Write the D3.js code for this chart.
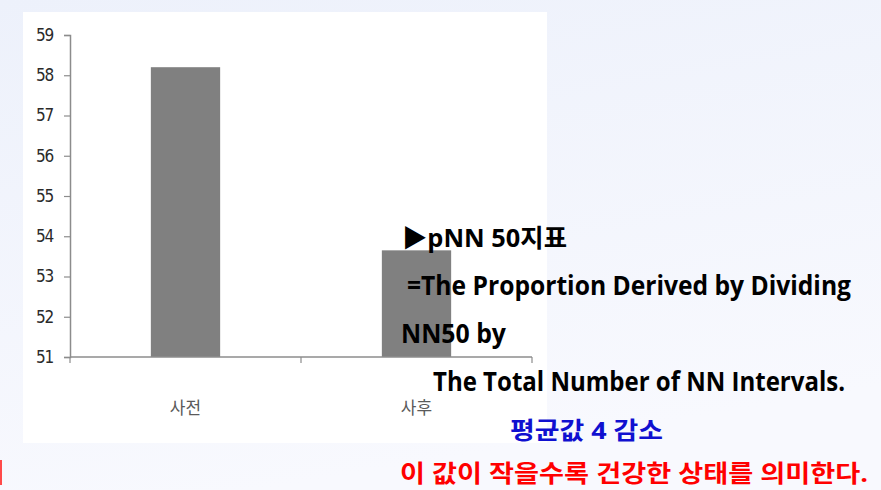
<!DOCTYPE html>
<html>
<head>
<meta charset="utf-8">
<script src="https://cdn.jsdelivr.net/npm/d3@7"></script>
<style>
  html, body { margin: 0; padding: 0; }
  body { width: 881px; height: 490px; overflow: hidden; }
</style>
</head>
<body>
<div id="chart"></div>
<script>
// data
const categories = ["사전", "사후"];
const values = [58.2, 53.65];
const yTicks = [51, 52, 53, 54, 55, 56, 57, 58, 59];
const notes = [
    "▶pNN 50지표",
    "=The Proportion Derived by Dividing",
    "NN50 by",
    "The Total Number of NN Intervals.",
    "평균값 4 감소",
    "이 값이 작을수록 건강한 상태를 의미한다."
];

const width = 881, height = 490;

const svg = d3.select("#chart")
    .append("svg")
        .attr("width", width)
        .attr("height", height);

// slide background
const defs = svg.append("defs");
const grad = defs.append("linearGradient")
    .attr("id", "bg")
    .attr("x1", 0).attr("y1", 0).attr("x2", 0.3).attr("y2", 1);
grad.append("stop").attr("offset", "0%").attr("stop-color", "#edf1fb");
grad.append("stop").attr("offset", "100%").attr("stop-color", "#f8f9fe");

svg.append("rect")
    .attr("width", width)
    .attr("height", height)
    .attr("fill", "url(#bg)");

// little red mark at left edge
svg.append("rect")
    .attr("x", 0).attr("y", 460)
    .attr("width", 2).attr("height", 25)
    .attr("fill", "#ff4a4a");

// white chart panel
svg.append("rect")
    .attr("x", 23).attr("y", 12)
    .attr("width", 524).attr("height", 431)
    .attr("fill", "#ffffff");

const plot = {left: 70, right: 532, top: 35, bottom: 357};

const x = d3.scaleBand()
    .domain(categories)
    .range([plot.left, plot.right])
    .padding(0);

const y = d3.scaleLinear()
    .domain([51, 59])
    .range([plot.bottom, plot.top]);

const axisColor = "#8c8c8c";

// y axis
const yAxis = svg.append("g")
    .attr("transform", "translate(" + plot.left + ",0)")
    .call(d3.axisLeft(y).tickValues(yTicks).tickSize(6).tickPadding(11).tickFormat(d3.format("d")));
yAxis.select(".domain").attr("stroke", axisColor).attr("stroke-width", 1.5);
yAxis.selectAll(".tick line").attr("stroke", axisColor).attr("stroke-width", 1.2);
yAxis.selectAll(".tick text")
    .style("font-family", "'DejaVu Sans', sans-serif")
    .style("font-stretch", "condensed")
    .style("font-size", "17px")
    .style("letter-spacing", "-1.2px")
    .attr("fill", "#2a2a2a");

// bars
const barW = x.bandwidth() * 0.3;
svg.selectAll(".bar")
    .data(categories.map((c, i) => ({cat: c, val: values[i]})))
    .join("rect")
        .attr("class", "bar")
        .attr("x", d => x(d.cat) + (x.bandwidth() - barW) / 2)
        .attr("y", d => y(d.val))
        .attr("width", barW)
        .attr("height", d => y(51) - y(d.val))
        .attr("fill", "#808080");

// x axis: ticks between categories, labels centered
const xAxis = svg.append("g")
    .attr("transform", "translate(0," + plot.bottom + ")");
xAxis.append("line")
    .attr("x1", plot.left).attr("x2", plot.right)
    .attr("stroke", axisColor).attr("stroke-width", 1.5);
const edges = [plot.left].concat(categories.map(c => x(c) + x.bandwidth()));
xAxis.selectAll(".xtick")
    .data(edges)
    .join("line")
        .attr("class", "xtick")
        .attr("x1", d => d).attr("x2", d => d)
        .attr("y1", 0).attr("y2", 6)
        .attr("stroke", axisColor).attr("stroke-width", 1.2);
xAxis.selectAll(".xlabel")
    .data(categories)
    .join("text")
        .attr("class", "xlabel")
        .attr("x", d => x(d) + x.bandwidth() / 2)
        .attr("y", 57)
        .style("font-family", "'Noto Sans CJK KR', sans-serif")
        .style("font-size", "17px")
        .style("text-anchor", "middle")
        .attr("fill", "#5a5a5a")
        .text(d => d);

// annotation text on the right
const noteFont = "'Open Sans', 'Noto Sans CJK KR', sans-serif";
const noteLayout = [
    {x: 402, y: 247, w: 165, size: 25, color: "#000000"},
    {x: 407, y: 295, w: 444, size: 26, color: "#000000"},
    {x: 401, y: 343, w: 105, size: 26, color: "#000000"},
    {x: 433, y: 391, w: 412, size: 26, color: "#000000"},
    {x: 510, y: 439, w: 153, size: 24, color: "#1010d0"},
    {x: 400, y: 482, w: 468, size: 24, color: "#ff0000"}
];
svg.selectAll(".note")
    .data(notes.map((t, i) => Object.assign({text: t}, noteLayout[i])))
    .join("text")
        .attr("class", "note")
        .attr("x", d => d.x)
        .attr("y", d => d.y)
        .attr("textLength", d => d.w)
        .attr("lengthAdjust", "spacingAndGlyphs")
        .style("font-family", noteFont)
        .style("font-weight", "bold")
        .style("font-size", d => d.size + "px")
        .attr("fill", d => d.color)
        .text(d => d.text);
</script>
</body>
</html>
